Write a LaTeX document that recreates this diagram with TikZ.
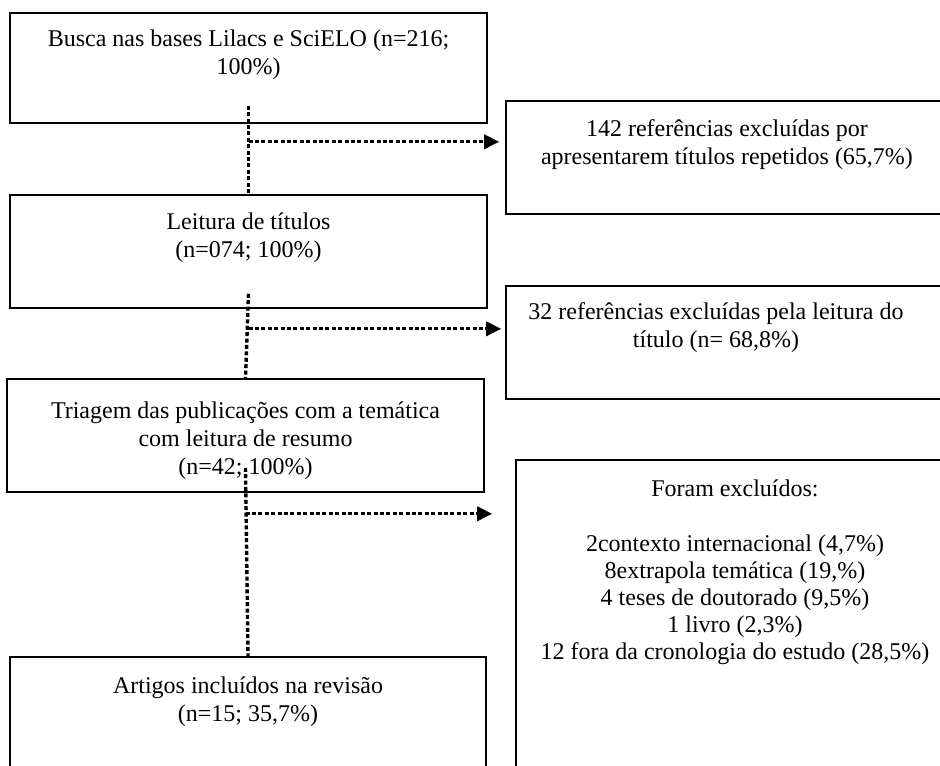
\documentclass[tikz,border=0pt]{standalone}
\usepackage{fontspec}
\setmainfont{Liberation Serif}
\usetikzlibrary{positioning,arrows.meta}

\begin{document}
\begin{tikzpicture}[x=0.5pt, y=0.5pt,
    nodes = {font=\fontsize{12}{14}\selectfont},
    box/.style = {draw, line width=0.8pt, minimum width=238.5pt,
      minimum height=56.5pt, inner sep=0pt},
    sidebox/.style = {box, minimum width=221pt},
    txt/.style = {align=center, inner sep=0pt},
    dots/.style = {line width=1.7pt, dash pattern=on 2pt off 1.2pt},
    tip/.style = {-{Triangle[length=7.5pt,width=7pt]}}]
  \useasboundingbox (0,0) rectangle (940,765);
  \clip (0,0) rectangle (940,765);
  % left column
  \node[box, minimum height=55pt] (busca) at (248.5,697) {};
  \node[box] (leitura) at (248.5,513.5) {};
  \node[box] (triagem) at (245.5,329.5) {};
  \node[box, minimum width=238pt, minimum height=71.5pt] (artigos) at (248,36.5) {};
  % right column (runs off the page)
  \node[sidebox] (excl1) at (727,607.5) {};
  \node[sidebox] (excl2) at (727,422.5) {};
  \node[sidebox, minimum width=219pt, minimum height=170pt] (excl3) at (735,135) {};
  % texts, hung from the top of each box
  \node[txt, below=8.5pt of busca.north] (tbusca)
    {Busca nas bases Lilacs e SciELO (n=216;\\100\%)};
  \node[txt, below=9pt of leitura.north] (tleitura)
    {Leitura de títulos\\(n=074; 100\%)};
  \node[txt, below=11.5pt of triagem.north] (ttriagem)
    {Triagem das publicações com a temática\\com leitura de resumo\\(n=42; 100\%)};
  \node[txt, below=10pt of artigos.north] (tartigos)
    {Artigos incluídos na revisão\\(n=15; 35,7\%)};
  \node[txt, below=9.5pt of excl1.north] (texcl1)
    {142 referências excluídas por\\apresentarem títulos repetidos (65,7\%)};
  \node[txt, below=8.5pt of excl2.north, xshift=-5.5pt] (texcl2)
    {32 referências excluídas pela leitura do\\título (n= 68,8\%)};
  \node[txt, below=10pt of excl3.north, font=\fontsize{12}{13.5}\selectfont] (texcl3)
    {Foram excluídos:\\[14pt]2contexto internacional (4,7\%)\\8extrapola temática (19,\%)\\
     4 teses de doutorado (9,5\%)\\1 livro (2,3\%)\\12 fora da cronologia do estudo (28,5\%)};
  % junctions on the dotted lines
  \coordinate[below=9pt of busca.south] (j1);
  \coordinate[below=10pt of leitura.south] (j2);
  \coordinate[below=10.5pt of triagem.south] (j3);
  \foreach \from/\to/\out/\j/\up/\gap in {
      busca/leitura/excl1/j1/9pt/3pt,
      leitura/triagem/excl2/j2/7.5pt/2pt,
      triagem/artigos/excl3/j3/12.5pt/11.5pt} {
    \draw[dots] ([yshift=\up]\from.south) -- (\to.north);
    \draw[dots, tip, shorten >=\gap] (\j) -- (\j -| \out.west);
  }
\end{tikzpicture}
\end{document}
